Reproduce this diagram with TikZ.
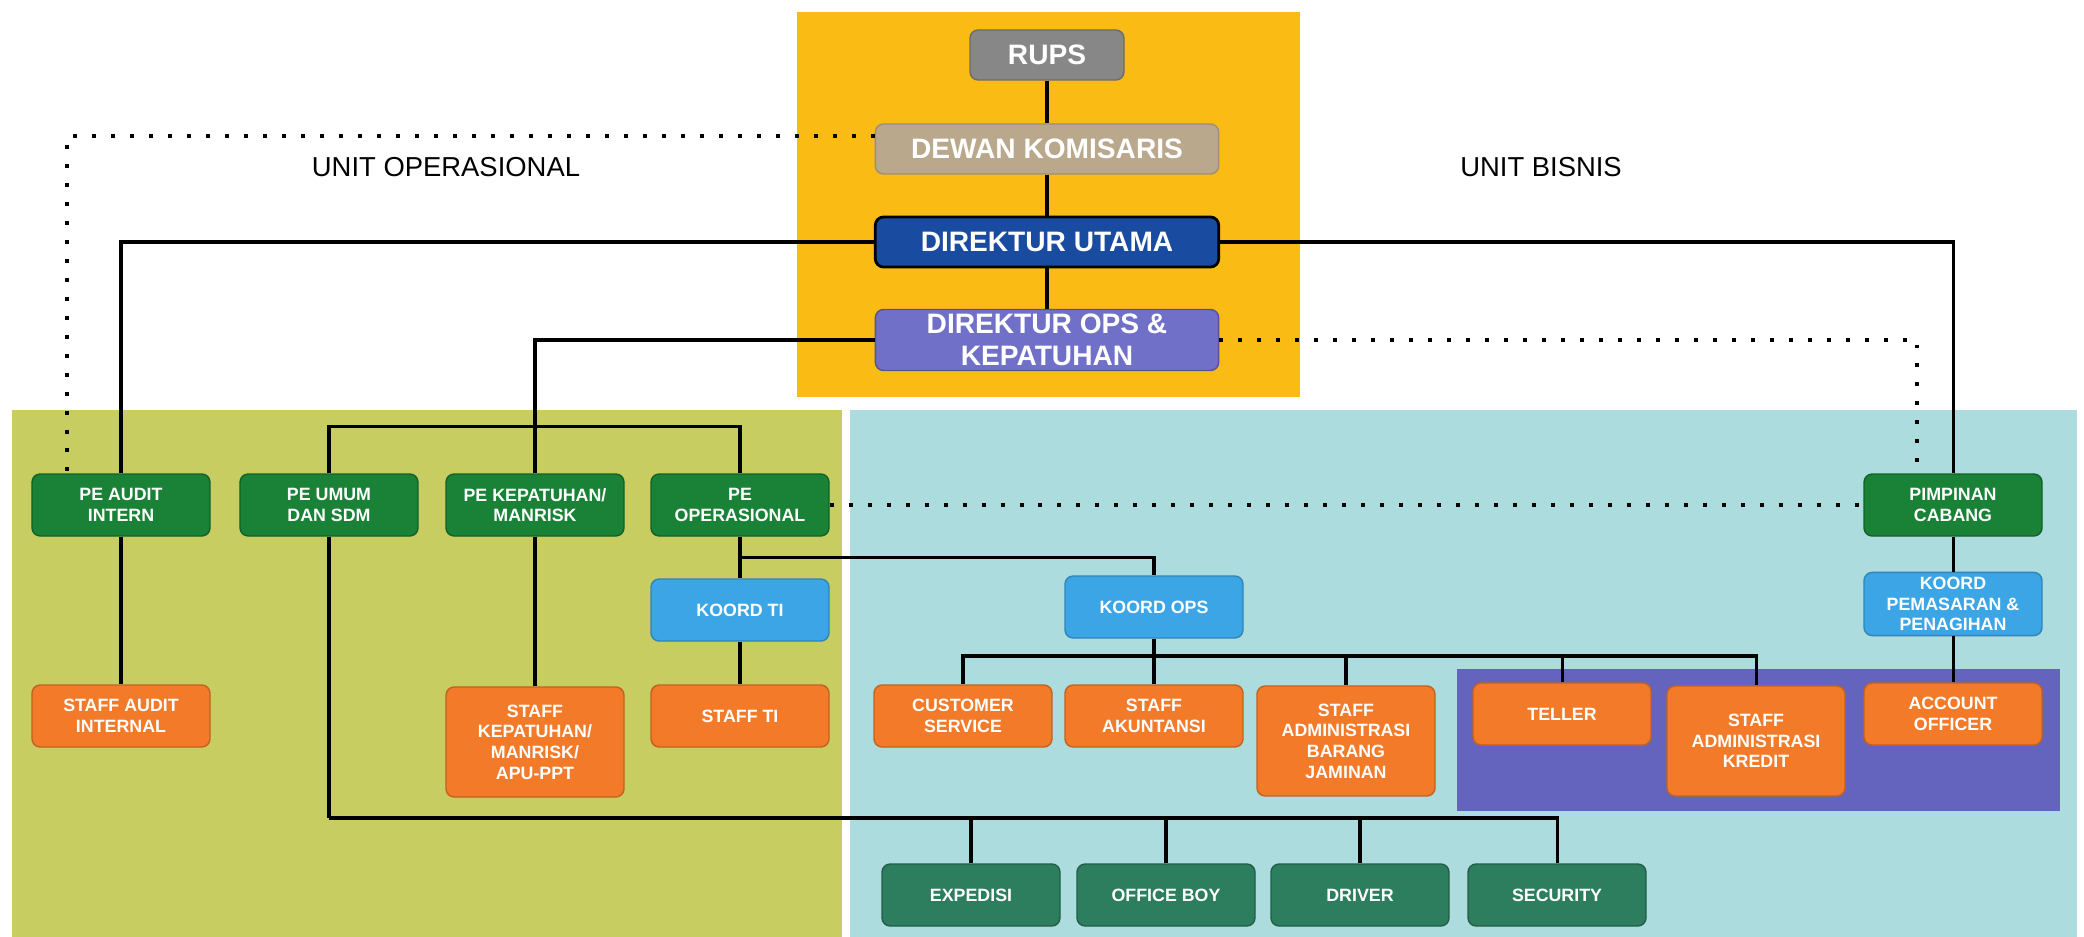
\documentclass[tikz,border=0pt]{standalone}
\usepackage{fontspec}
\setmainfont{Liberation Sans}
\usetikzlibrary{calc, positioning}
\definecolor{rapatYellow}{RGB}{250,187,20}
\definecolor{opsOlive}{RGB}{200,205,98}
\definecolor{bisnisCyan}{RGB}{172,220,222}
\definecolor{kreditPurple}{RGB}{100,100,190}
\definecolor{rupsGray}{RGB}{135,135,135}
\definecolor{dewanTan}{RGB}{185,168,140}
\definecolor{dirutBlue}{RGB}{25,75,160}
\definecolor{diropsViolet}{RGB}{112,112,200}
\definecolor{peGreen}{RGB}{25,130,55}
\definecolor{koordBlue}{RGB}{60,165,230}
\definecolor{staffOrange}{RGB}{242,122,40}
\definecolor{umumTeal}{RGB}{45,125,95}
\newcommand{\topfont}{\fontsize{12}{13.5}\selectfont\bfseries}
\newcommand{\boxfont}{\fontsize{7.6}{8.8}\selectfont\bfseries}
\tikzstyle{every picture}+=[remember picture]

\begin{document}
\begin{tikzpicture}[x=0.015cm, y=-0.015cm,
unitbox/.style={rounded corners=3.5pt, text=white, align=center, inner sep=2pt, line width=0.6pt},
topbox/.style={unitbox, font=\topfont, minimum width=5.15cm, minimum height=0.75cm},
smallbox/.style={unitbox, font=\boxfont, minimum width=2.67cm, minimum height=0.93cm},
pebox/.style={smallbox, fill=peGreen, draw=peGreen!75!black},
koordbox/.style={smallbox, fill=koordBlue, draw=koordBlue!80!black},
staffbox/.style={smallbox, fill=staffOrange, draw=staffOrange!80!black},
tallbox/.style={staffbox, minimum height=1.65cm},
umumbox/.style={smallbox, fill=umumTeal, draw=umumTeal!75!black},
link/.style={line width=1.3pt},
dotlink/.style={line width=1.7pt, dash pattern=on 1.7pt off 6.4pt}]
\useasboundingbox (0,0) rectangle (2084,937);
% areas
\fill[rapatYellow] (797,12) rectangle (1300,397);
\fill[opsOlive] (12,410) rectangle (842,937);
\fill[bisnisCyan] (850,410) rectangle (2077,937);
\fill[kreditPurple] (1457,669) rectangle (2060,811);
\node[font=\fontsize{11.7}{13}\selectfont] (unitops) at (446,167) {UNIT OPERASIONAL};
\node[font=\fontsize{11.7}{13}\selectfont] (unitbisnis) at (1541,167) {UNIT BISNIS};
% direksi
\node[topbox, fill=rupsGray, draw=rupsGray!80!black, minimum width=2.31cm] (rups) at (1047,55) {RUPS};
\node[topbox, fill=dewanTan, draw=dewanTan!85!black] (dewan) at (1047,149) {DEWAN KOMISARIS};
\node[topbox, fill=dirutBlue, draw=black, line width=1.2pt] (dirut) at (1047,242) {DIREKTUR UTAMA};
\node[topbox, fill=diropsViolet, draw=diropsViolet!75!black] (dirops) at (1047,340) {DIREKTUR OPS \&\\KEPATUHAN};
% unit operasional
\node[pebox] (peaudit) at (121,505) {PE AUDIT\\INTERN};
\node[pebox] (peumum) at (329,505) {PE UMUM\\DAN SDM};
\node[pebox] (pekep) at (535,505) {PE KEPATUHAN/\\MANRISK};
\node[pebox] (peops) at (740,505) {PE\\OPERASIONAL};
\node[koordbox] (koordti) at (740,610) {KOORD TI};
\node[staffbox] (staffaudit) at (121,716) {STAFF AUDIT\\INTERNAL};
\node[tallbox] (staffkep) at (535,742) {STAFF\\KEPATUHAN/\\MANRISK/\\APU-PPT};
\node[staffbox] (staffti) at (740,716) {STAFF TI};
% unit bisnis
\node[pebox] (pimpinan) at (1953,505) {PIMPINAN\\CABANG};
\node[koordbox] (koordops) at (1154,607) {KOORD OPS};
\node[koordbox] (koordpem) at (1953,604) {KOORD\\PEMASARAN \&\\PENAGIHAN};
\node[staffbox] (cs) at (963,716) {CUSTOMER\\SERVICE};
\node[staffbox] (akun) at (1154,716) {STAFF\\AKUNTANSI};
\node[tallbox] (barang) at (1346,741) {STAFF\\ADMINISTRASI\\BARANG\\JAMINAN};
\node[staffbox] (teller) at (1562,714) {TELLER};
\node[tallbox] (kredit) at (1756,741) {STAFF\\ADMINISTRASI\\KREDIT};
\node[staffbox] (ao) at (1953,714) {ACCOUNT\\OFFICER};
\node[umumbox] (expedisi) at (971,895) {EXPEDISI};
\node[umumbox] (officeboy) at (1166,895) {OFFICE BOY};
\node[umumbox] (driver) at (1360,895) {DRIVER};
\node[umumbox] (security) at (1557,895) {SECURITY};
% garis komando
\draw[link] (rups) -- (dewan) -- (dirut) -- (dirops);
\draw[link] (dirut.west) -| (peaudit.north);
\draw[link] (dirut.east) -| (pimpinan.north);
\draw[link] (dirops.west) -| (pekep.north);
\draw[link] (peumum.north) -- ++(0,-47) -| (peops.north);
\draw[link] (peaudit) -- (staffaudit);
\draw[link] (pekep) -- (staffkep);
\draw[link] (peops) -- (koordti) -- (staffti);
\draw[link] (pimpinan) -- (koordpem) -- (ao);
\coordinate (opsfork) at ($(peops.south)!0.5!(koordti.north)$);
\draw[link] (opsfork) -| (koordops.north);
\coordinate (opsbus) at (1154,656);
\draw[link] (koordops.south) -- (opsbus);
\foreach \n in {cs,akun,barang,teller,kredit}
  \draw[link] (opsbus) -| (\n.north);
\coordinate (umumbus) at (329,818);
\draw[link] (peumum.south) -- (umumbus);
\foreach \n in {expedisi,officeboy,driver,security}
  \draw[link] (umumbus) -| (\n.north);
% garis koordinasi
\draw[dotlink] ($(dewan.north west)!0.25!(dewan.south west)$) -| ($(peaudit.north west)!0.2!(peaudit.north east)$);
\draw[dotlink] (dirops.east) -| ($(pimpinan.north west)!0.3!(pimpinan.north east)$);
\draw[dotlink] (peops.east) -- (pimpinan.west);
\end{tikzpicture}
\end{document}
